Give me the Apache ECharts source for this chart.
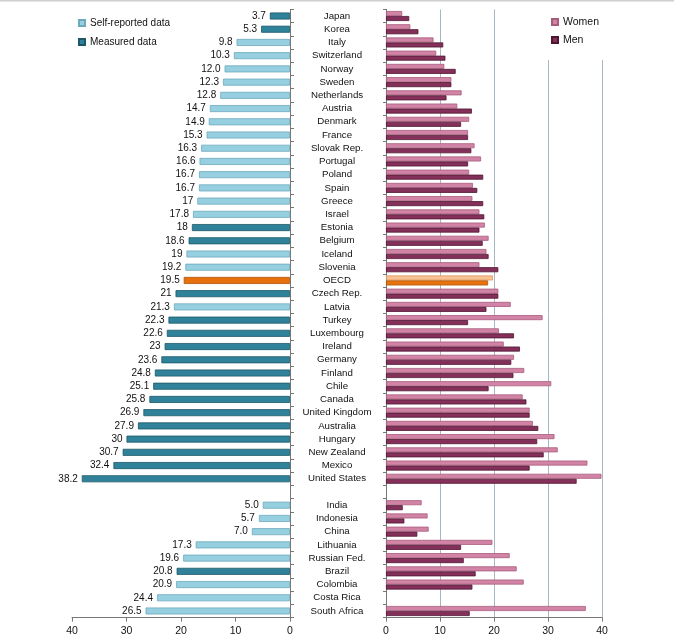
<!DOCTYPE html>
<html>
<head>
<meta charset="utf-8">
<script src="https://cdn.jsdelivr.net/npm/echarts@6/dist/echarts.min.js"></script>
<style>
html,body{margin:0;padding:0;background:#fff;}
#chart{width:674px;height:640px;}
</style>
</head>
<body>
<div id="chart"></div>
<script>
var categories = ['Japan','Korea','Italy','Switzerland','Norway','Sweden','Netherlands','Austria','Denmark','France','Slovak Rep.','Portugal','Poland','Spain','Greece','Israel','Estonia','Belgium','Iceland','Slovenia','OECD','Czech Rep.','Latvia','Turkey','Luxembourg','Ireland','Germany','Finland','Chile','Canada','United Kingdom','Australia','Hungary','New Zealand','Mexico','United States','','India','Indonesia','China','Lithuania','Russian Fed.','Brazil','Colombia','Costa Rica','South Africa'];

var totalLabels = ['3.7','5.3','9.8','10.3','12.0','12.3','12.8','14.7','14.9','15.3','16.3','16.6','16.7','16.7','17','17.8','18','18.6','19','19.2','19.5','21','21.3','22.3','22.6','23','23.6','24.8','25.1','25.8','26.9','27.9','30','30.7','32.4','38.2','','5.0','5.7','7.0','17.3','19.6','20.8','20.9','24.4','26.5'];

var dataType = ['M','M','S','S','S','S','S','S','S','S','S','S','S','S','S','S','M','M','S','S','O','M','S','M','M','M','M','M','M','M','M','M','M','M','M','M','','S','S','S','S','S','M','S','S','S'];

var women = [3.0,4.5,8.8,9.3,10.8,12.1,14.0,13.2,15.4,15.2,16.4,17.6,15.4,16.1,16.0,17.3,18.3,19.0,18.6,17.3,19.8,20.8,23.1,29.0,20.9,21.8,23.7,25.6,30.6,25.3,26.6,27.2,31.2,31.8,37.3,39.9,null,6.6,7.7,7.9,19.7,22.9,24.2,25.5,null,37.0];

var men = [4.3,6.0,10.6,11.0,12.9,12.1,11.2,15.9,13.9,15.2,15.8,15.2,18.0,16.9,18.0,18.2,17.3,17.9,19.0,20.8,18.9,20.8,18.6,15.2,23.7,24.8,23.2,23.6,19.0,26.0,26.6,28.2,28.0,29.2,26.6,35.3,null,3.1,3.4,5.8,13.9,14.4,16.6,16.0,null,15.5];

var xTicks = [0,10,20,30,40];

function totalFor(type){
  return totalLabels.map(function(v,i){ return (dataType[i]===type && v!=='') ? parseFloat(v) : '-'; });
}
function genderData(arr, oecdColor, oecdBorder){
  return arr.map(function(v,i){
    if(v===null) return '-';
    if(categories[i]==='OECD') return {value:v, itemStyle:{color:oecdColor, borderColor:oecdBorder}};
    return v;
  });
}

var chart = echarts.init(document.getElementById('chart'), null, {renderer:'canvas'});
var font = 'Liberation Sans, Arial, sans-serif';
var labelCfg = {
  show:true, position:'left', distance:4, fontSize:10, color:'#111', fontFamily:font,
  formatter:function(p){ return totalLabels[p.dataIndex]; }
};
var gridTop = 9.4, gridBottom = 22.4;

var option = {
  backgroundColor:'#fff',
  animation:false,
  textStyle:{fontFamily:font},
  graphic:[{type:'rect', z:1000, shape:{x:0,y:0,width:674,height:1.5}, style:{fill:'#cfcfcf'}, silent:true}],
  legend:[
    {
      data:['Self-reported data','Measured data'],
      orient:'vertical', left:73, top:12, itemWidth:6, itemHeight:6, itemGap:7,
      icon:'rect',
      textStyle:{fontSize:10, color:'#111', fontFamily:font, lineHeight:12}
    },
    {
      data:['Women','Men'],
      orient:'vertical', left:546, top:0, padding:[16,20,14,5],
      backgroundColor:'#fff',
      itemWidth:6, itemHeight:6, itemGap:6, icon:'rect',
      textStyle:{fontSize:10.5, color:'#111', fontFamily:font, lineHeight:12}
    }
  ],
  grid:[
    {left:72, right:384, top:gridTop, bottom:gridBottom},
    {left:386, right:72, top:gridTop, bottom:gridBottom}
  ],
  xAxis:[
    {
      gridIndex:0, type:'value', inverse:true, min:0, max:40, interval:10,
      axisLine:{show:true, lineStyle:{color:'#777'}},
      axisTick:{show:true, length:4, lineStyle:{color:'#777'}},
      axisLabel:{fontSize:10.5, color:'#111', margin:8, fontFamily:font},
      splitLine:{show:false}
    },
    {
      gridIndex:1, type:'value', min:0, max:40, interval:10,
      axisLine:{show:true, lineStyle:{color:'#777'}},
      axisTick:{show:true, length:4, lineStyle:{color:'#777'}},
      axisLabel:{fontSize:10.5, color:'#111', margin:8, fontFamily:font},
      splitLine:{show:true, lineStyle:{color:'#a8b8c2', width:1}}
    }
  ],
  yAxis:[
    {
      gridIndex:0, type:'category', data:categories, inverse:true, position:'right',
      axisLine:{show:true, lineStyle:{color:'#777'}},
      axisTick:{show:true, interval:0, length:4, lineStyle:{color:'#777'}},
      axisLabel:{show:false, interval:0}
    },
    {
      gridIndex:1, type:'category', data:categories, inverse:true, position:'left',
      axisLine:{show:true, lineStyle:{color:'#777'}},
      axisTick:{show:true, interval:0, length:3, lineStyle:{color:'#777'}},
      axisLabel:{show:true, interval:0, align:'center', margin:49, fontSize:9.7, color:'#111', fontFamily:font}
    }
  ],
  series:[
    {
      name:'Self-reported data', type:'bar', xAxisIndex:0, yAxisIndex:0,
      data: totalFor('S'), barWidth:7, barGap:'-100%',
      itemStyle:{color:'#95cfe0', borderColor:'#6fa9bd', borderWidth:0.8},
      label:labelCfg
    },
    {
      name:'Measured data', type:'bar', xAxisIndex:0, yAxisIndex:0,
      data: totalFor('M'), barWidth:7, barGap:'-100%',
      itemStyle:{color:'#2f8299', borderColor:'#1d5868', borderWidth:0.8},
      label:labelCfg
    },
    {
      name:'OECD average', type:'bar', xAxisIndex:0, yAxisIndex:0,
      data: totalFor('O'), barWidth:7, barGap:'-100%',
      itemStyle:{color:'#e8700c', borderColor:'#b0550a', borderWidth:0.8},
      label:labelCfg
    },
    {
      name:'Women', type:'bar', xAxisIndex:1, yAxisIndex:1,
      data: genderData(women, '#f9c293', '#d99a66'), barWidth:5, barGap:'0%',
      itemStyle:{color:'#d184a5', borderColor:'#a85c7c', borderWidth:0.8}
    },
    {
      name:'Men', type:'bar', xAxisIndex:1, yAxisIndex:1,
      data: genderData(men, '#e8730f', '#b0550a'), barWidth:5, barGap:'0%',
      itemStyle:{color:'#84305a', borderColor:'#4f1632', borderWidth:0.8}
    }
  ]
};
chart.setOption(option);
</script>
</body>
</html>
